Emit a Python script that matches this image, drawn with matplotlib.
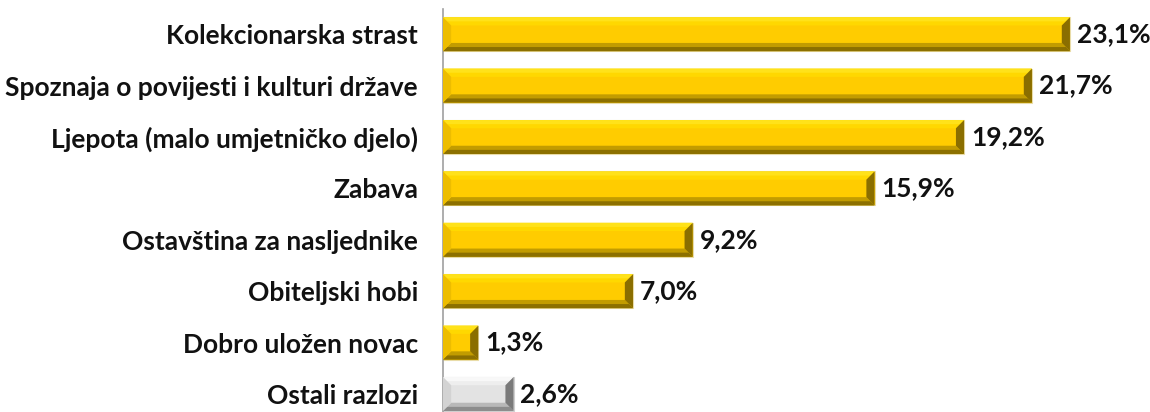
import matplotlib.pyplot as plt
from matplotlib.patches import Polygon

categories = ["Kolekcionarska strast", "Spoznaja o povijesti i kulturi države",
              "Ljepota (malo umjetničko djelo)", "Zabava", "Ostavština za nasljednike",
              "Obiteljski hobi", "Dobro uložen novac", "Ostali razlozi"]
values = [23.1, 21.7, 19.2, 15.9, 9.2, 7.0, 1.3, 2.6]
labels = ["23,1%", "21,7%", "19,2%", "15,9%", "9,2%", "7,0%", "1,3%", "2,6%"]

gold = dict(top="#FFE21A", top2="#FFD800", mid="#FFCC00", bot="#C29C00", bot2="#8C7000",
            left="#EDBD00", right="#8A6E00", edge="#E9DCA8")
grey = dict(top="#F8F8F8", top2="#EEEEEE", mid="#E3E3E3", bot="#B8B8B8", bot2="#8C8C8C",
            left="#D3D3D3", right="#7A7A7A", edge="#CFCFCF")

plt.rcParams['font.family'] = ['Lato', 'DejaVu Sans']

fig = plt.figure(figsize=(11.5, 4.12), dpi=100)
ax = fig.add_axes([443 / 1150, -0.0187, 678.5 / 1150, 8 * 51.4 / 412])

h = 0.66
bx = 0.30   # bevel width in data units (x)
by = 0.16   # bevel height in data units (y)


def bevel_bar(ax, y, w, c):
    y0, y1 = y - h / 2, y + h / 2
    ax.barh(y, w, height=h, color=c["mid"], edgecolor=c["edge"], linewidth=0.8, zorder=2)
    b = min(bx, w / 2)
    m = by / 2
    # y axis is inverted, so y0 is the top edge on screen
    polys = [
        ([(0, y0), (w, y0), (w - b, y0 + by), (b, y0 + by)], c["top2"]),
        ([(0, y0), (w, y0), (w - b / 2, y0 + m), (b / 2, y0 + m)], c["top"]),
        ([(0, y1), (w, y1), (w - b, y1 - by), (b, y1 - by)], c["bot"]),
        ([(0, y1), (w, y1), (w - b / 2, y1 - m), (b / 2, y1 - m)], c["bot2"]),
        ([(0, y0), (b, y0 + by), (b, y1 - by), (0, y1)], c["left"]),
        ([(w, y0), (w - b, y0 + by), (w - b, y1 - by), (w, y1)], c["right"]),
    ]
    for pts, col in polys:
        ax.add_patch(Polygon(pts, closed=True, facecolor=col, edgecolor="none", zorder=3))


for i, (v, lab) in enumerate(zip(values, labels)):
    c = grey if i == len(values) - 1 else gold
    bevel_bar(ax, i, v, c)
    ax.text(v + 0.25, i, lab, va="center", ha="left", fontsize=19, fontweight="bold", color="#111111")

ax.set_xlim(0, 25)
ax.set_ylim(len(values) - 0.5, -0.5)
ax.set_yticks(range(len(categories)))
ax.set_yticklabels(categories, fontsize=19, fontweight="bold", color="#111111")
ax.tick_params(axis="y", length=0, pad=18)
ax.set_xticks([])
for s in ["top", "right", "bottom"]:
    ax.spines[s].set_visible(False)
ax.spines["left"].set_color("#A0A0A0")
ax.spines["left"].set_linewidth(1.2)

fig.savefig("out.png", dpi=100)
